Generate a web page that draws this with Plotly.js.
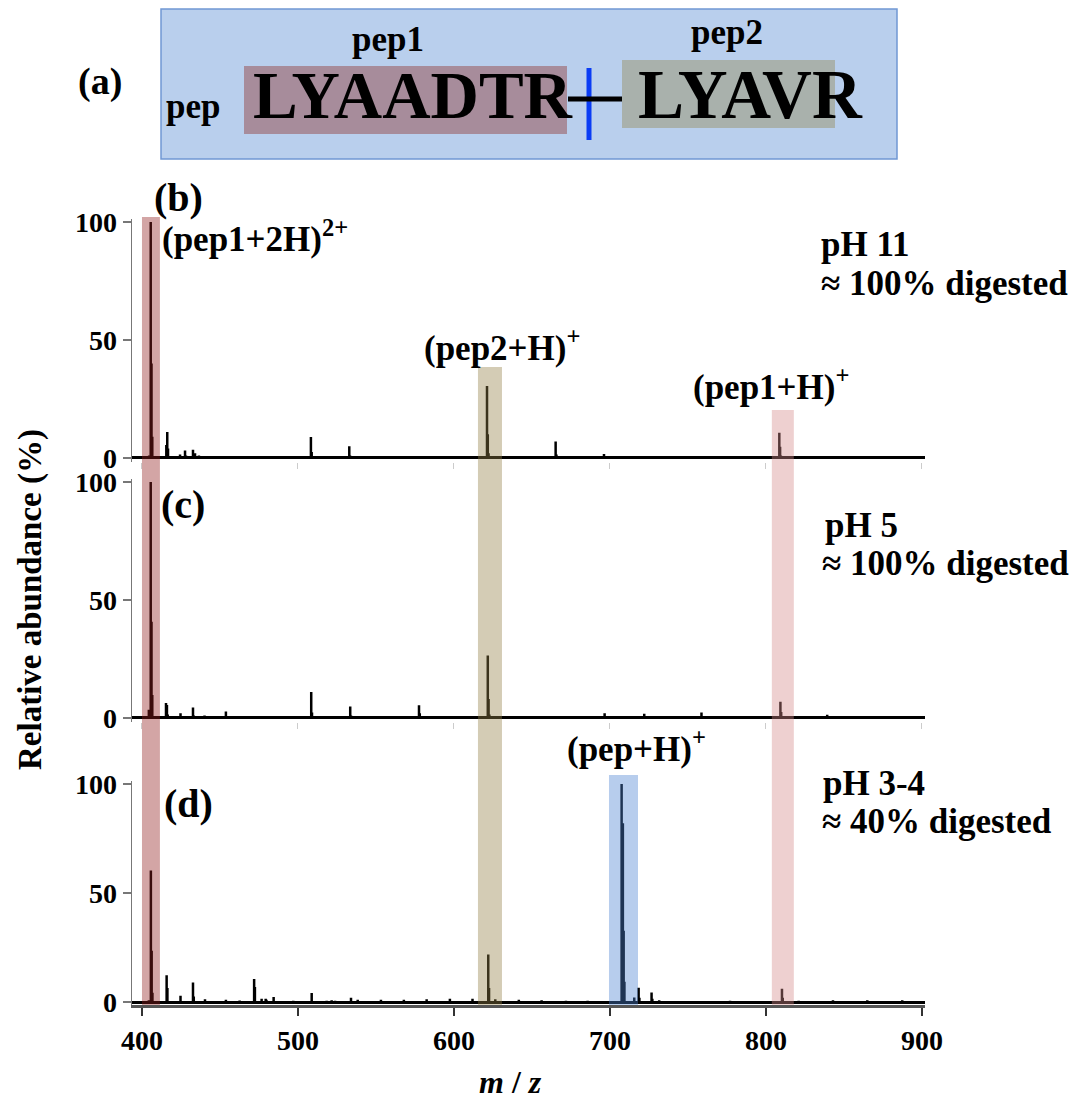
<!DOCTYPE html>
<html>
<head>
<meta charset="utf-8">
<script src="https://cdn.plot.ly/plotly-3.0.1.min.js"></script>
<style>html,body{margin:0;padding:0;background:#fff;}#chart{width:1082px;height:1099px;}</style>
</head>
<body>
<div id="chart"></div>
<script>
// ---- data: stick spectra (m/z, relative abundance %) ----
const mzB  = [404.6, 405.6, 406.1, 406.6, 415.6, 416.2, 416.7, 424.4, 427.6, 428.2, 432.7, 434.0, 436.5, 438.5, 440.5, 453.8, 462.4, 475.7, 508.3, 508.8, 532.9, 533.4, 577.0, 621.2, 621.7, 622.2, 637.0, 642.8, 665.2, 665.7, 696.2, 721.4, 758.1, 808.6, 809.1, 809.6, 852.7];
const intB = [1.0, 100, 40, 9, 5.5, 11, 4, 1.5, 3.2, 1.0, 3.5, 2.0, 1.0, 0.8, 0.6, 0.7, 0.7, 0.3, 8.9, 2.5, 5.0, 1.0, 0.6, 30.5, 10, 2.0, 0.5, 0.6, 7.0, 1.5, 1.7, 0.3, 0.8, 10.7, 4.8, 1.0, 0.8];

const mzC  = [404.4, 405.6, 406.1, 406.6, 415.4, 416.0, 416.5, 424.7, 432.7, 433.2, 440.1, 453.8, 462.4, 476.3, 508.5, 509.0, 524.2, 533.5, 534.0, 577.6, 578.1, 621.7, 622.2, 622.7, 633.5, 659.6, 665.8, 696.6, 722.0, 758.7, 809.3, 809.8, 839.3];
const intC = [3.5, 100, 40.8, 9.7, 6.3, 5.5, 1.5, 2.0, 4.4, 1.0, 1.0, 2.7, 0.8, 0.3, 11, 2.3, 0.6, 4.9, 1.0, 5.4, 2.0, 26.5, 8.0, 1.5, 0.6, 0.4, 0.4, 2.0, 1.8, 2.3, 6.9, 2.5, 1.4];

const mzD  = [404.4, 405.7, 406.2, 406.7, 415.8, 416.3, 424.7, 432.7, 433.2, 440.4, 453.8, 462.6, 471.9, 472.4, 476.7, 479.3, 479.8, 484.4, 497.0, 508.8, 518.4, 521.6, 523.8, 529.5, 534.0, 538.3, 553.2, 567.9, 578.2, 582.5, 597.4, 611.9, 622.0, 622.5, 626.5, 641.6, 656.2, 671.8, 685.7, 697.4, 707.5, 708.3, 708.8, 709.3, 715.6, 718.4, 718.9, 726.7, 727.2, 731.6, 736.3, 755.9, 777.0, 799.0, 810.3, 810.8, 821.0, 843.0, 865.0, 887.4];
const intD = [0.8, 60.3, 23.5, 4.3, 12.3, 6.4, 2.9, 9.0, 2.5, 1.3, 1.0, 0.7, 10.6, 6.9, 1.5, 1.5, 1.0, 2.3, 0.6, 4.1, 0.6, 0.8, 0.6, 0.5, 2.0, 1.0, 1.0, 1.0, 0.5, 1.3, 1.5, 1.5, 21.8, 6.4, 1.3, 1.0, 0.8, 0.6, 0.6, 0.5, 100, 82, 32.7, 9.3, 2.1, 6.6, 2.0, 4.4, 1.5, 0.8, 0.5, 0.4, 0.6, 0.5, 6.1, 2.0, 0.6, 0.8, 0.8, 0.8];

// highlight windows (m/z)
const hlRed   = [400.0, 411.5];
const hlTan   = [615.4, 630.8];
const hlPink  = [803.8, 817.9];
const hlBlue  = [699.4, 718.0];

const xTicks = [400, 500, 600, 700, 800, 900];
const yTicks = [0, 50, 100];

// ---- helpers ----
const W = 1082, H = 1099, ML = 132, PW = 793;
const X = px => (px - ML) / PW;
const Y = py => 1 - py / H;
const FONT = '"Liberation Serif", serif';

function sticks(mz, inten, xa, ya) {
  const x = [], y = [];
  mz.forEach((m, i) => { x.push(m, m, null); y.push(0, inten[i], null); });
  return {type: 'scatter', mode: 'lines', x: x, y: y, xaxis: xa, yaxis: ya,
          line: {color: '#000', width: 2.5}, hoverinfo: 'skip', showlegend: false};
}

const traces = [
  sticks(mzB, intB, 'x2', 'y'),
  sticks(mzC, intC, 'x3', 'y2'),
  sticks(mzD, intD, 'x', 'y3')
];

const xr = [393.6, 902];
const yr = [-1.5, 101.5];

function yax(dom) {
  return {domain: dom, range: yr, tickvals: yTicks, ticks: 'outside', ticklen: 8, tickcolor: '#777',
          tickwidth: 1.5, showline: true, linecolor: '#777', linewidth: 1.5, showgrid: false,
          zeroline: true, zerolinecolor: '#000', zerolinewidth: 3,
          tickfont: {family: FONT, size: 28, color: '#000', weight: 'bold'}, fixedrange: true};
}
function xaxMinor(anchor) {
  return {anchor: anchor, range: xr, tickvals: xTicks, ticks: 'outside', ticklen: 6, tickcolor: '#ccc',
          tickwidth: 1, showticklabels: false, showline: false, showgrid: false, zeroline: false, fixedrange: true};
}

const dB = [Y(461.5), Y(218.5)];
const dC = [Y(721.5), Y(478.5)];
const dD = [Y(1005.3), Y(780.7)];

const layout = {
  width: W, height: H,
  margin: {l: ML, r: W - ML - PW, t: 0, b: 0},
  paper_bgcolor: '#fff', plot_bgcolor: 'rgba(0,0,0,0)',
  showlegend: false,
  xaxis: {anchor: 'y3', range: xr, tickvals: xTicks, ticktext: xTicks.map(String), ticks: 'outside', ticklen: 8,
          tickcolor: '#333', tickwidth: 2, showline: true, linecolor: '#555', linewidth: 3, showgrid: false, zeroline: false,
          tickfont: {family: FONT, size: 28, color: '#000', weight: 'bold'}, fixedrange: true},
  xaxis2: xaxMinor('y'),
  xaxis3: xaxMinor('y2'),
  yaxis: yax(dB),
  yaxis2: yax(dC),
  yaxis3: yax(dD),
  shapes: [
    // panel (a) scheme
    {type: 'rect', xref: 'paper', yref: 'paper', x0: X(161), x1: X(897), y0: Y(159), y1: Y(9),
     fillcolor: 'rgb(185,207,237)', line: {color: 'rgb(112,152,212)', width: 1.5}},
    {type: 'rect', xref: 'paper', yref: 'paper', x0: X(244), x1: X(567), y0: Y(134), y1: Y(66),
     fillcolor: 'rgb(167,140,155)', line: {width: 0}},
    {type: 'rect', xref: 'paper', yref: 'paper', x0: X(622), x1: X(835), y0: Y(128), y1: Y(60),
     fillcolor: 'rgb(169,177,172)', line: {width: 0}},
    {type: 'line', xref: 'paper', yref: 'paper', x0: X(589), x1: X(589), y0: Y(140), y1: Y(68),
     line: {color: 'rgb(10,60,245)', width: 5}},
    {type: 'line', xref: 'paper', yref: 'paper', x0: X(568), x1: X(622), y0: Y(99), y1: Y(99),
     line: {color: '#000', width: 5}},
    // highlight columns (semi-transparent, over the sticks)
    {type: 'rect', xref: 'x', yref: 'paper', x0: hlRed[0], x1: hlRed[1], y0: Y(1005), y1: Y(217),
     fillcolor: 'rgb(145,30,30)', opacity: 0.4, line: {width: 0}, layer: 'above'},
    {type: 'rect', xref: 'x', yref: 'paper', x0: hlTan[0], x1: hlTan[1], y0: Y(1005), y1: Y(367),
     fillcolor: 'rgb(148,128,70)', opacity: 0.4, line: {width: 0}, layer: 'above'},
    {type: 'rect', xref: 'x', yref: 'paper', x0: hlPink[0], x1: hlPink[1], y0: Y(1005), y1: Y(410),
     fillcolor: 'rgb(212,137,137)', opacity: 0.4, line: {width: 0}, layer: 'above'},
    {type: 'rect', xref: 'x', yref: 'paper', x0: hlBlue[0], x1: hlBlue[1], y0: Y(1005), y1: Y(775),
     fillcolor: 'rgb(75,130,210)', opacity: 0.4, line: {width: 0}, layer: 'above'}
  ],
  annotations: []
};

function ann(text, px, py, size, xanchor, extra) {
  return Object.assign({text: text, xref: 'paper', yref: 'paper', x: X(px), y: Y(py),
    xanchor: xanchor || 'center', yanchor: 'middle', showarrow: false,
    font: {family: FONT, size: size, color: '#000', weight: 'bold'}}, extra || {});
}

layout.annotations.push(
  ann('(a)', 100, 82, 38),
  ann('pep', 193, 106, 35),
  ann('pep1', 388, 39, 35),
  ann('pep2', 727, 32, 35),
  ann('LYAADTR', 413, 95, 67),
  ann('LYAVR', 750, 95, 69),

  ann('(b)', 178, 197, 40),
  ann('(pep1+2H)<sup>2+</sup>', 160, 236, 35, 'left'),
  ann('pH 11', 819, 244, 35, 'left'),
  ann('≈ 100% digested', 819, 283, 35, 'left'),
  ann('(pep2+H)<sup>+</sup>', 422, 345, 35, 'left'),
  ann('(pep1+H)<sup>+</sup>', 691, 385, 35, 'left'),

  ann('(c)', 183, 505, 40),
  ann('pH 5', 823, 525, 35, 'left'),
  ann('≈ 100% digested', 820, 563, 35, 'left'),

  ann('(d)', 188, 803, 40),
  ann('(pep+H)<sup>+</sup>', 565, 746, 35, 'left'),
  ann('pH 3-4', 821, 783, 35, 'left'),
  ann('≈ 40% digested', 820, 821, 35, 'left'),

  ann('Relative abundance (%)', 30, 600, 33, 'center', {textangle: -90}),
  ann('<i>m</i> / <i>z</i>', 510, 1082, 32)
);

Plotly.newPlot('chart', traces, layout, {displayModeBar: false, staticPlot: true});
</script>
</body>
</html>
